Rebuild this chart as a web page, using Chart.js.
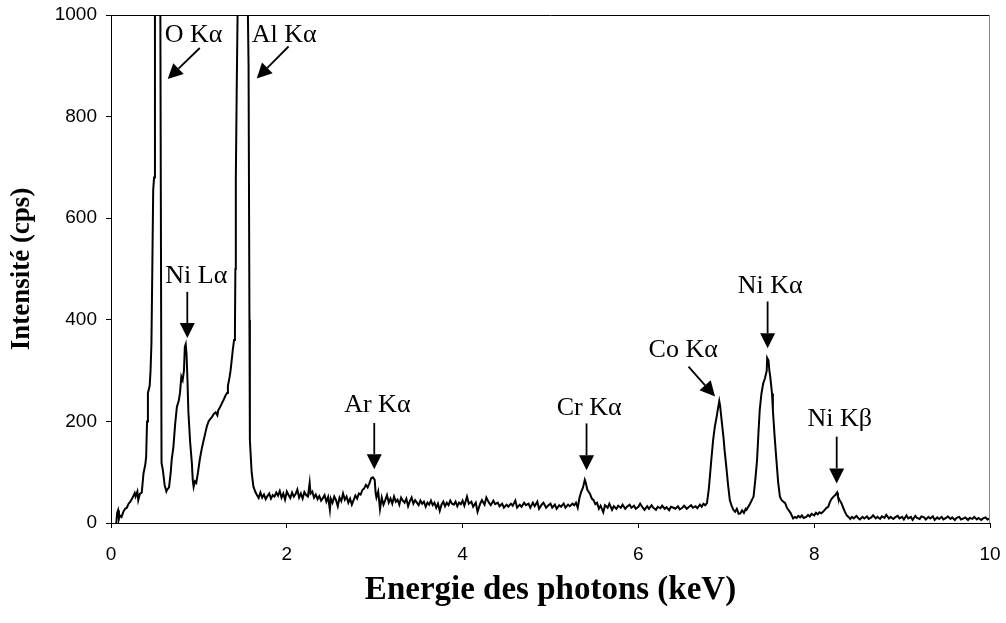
<!DOCTYPE html>
<html>
<head>
<meta charset="utf-8">
<script src="https://cdn.jsdelivr.net/npm/chart.js@4.4.1/dist/chart.umd.min.js"></script>
<style>
  html, body { margin: 0; padding: 0; background: #fff; }
</style>
</head>
<body>
<canvas id="spectrum" width="1006" height="623"></canvas>
<script>
// EDS spectrum (keV / cps)
const energy = [
  0.06, 0.07, 0.08, 0.09, 0.10, 0.12, 0.14, 0.16, 0.18, 0.20,
  0.22, 0.24, 0.26, 0.27, 0.28, 0.30, 0.31, 0.33, 0.35, 0.37,
  0.39, 0.40, 0.41, 0.42, 0.44, 0.45, 0.46, 0.47, 0.48, 0.49,
  0.50, 0.51, 0.55, 0.56, 0.575, 0.59, 0.61, 0.63, 0.64, 0.66,
  0.68, 0.69, 0.71, 0.73, 0.75, 0.77, 0.785, 0.80, 0.815, 0.83,
  0.84, 0.85, 0.86, 0.87, 0.88, 0.90, 0.92, 0.93, 0.94, 0.955,
  0.97, 0.99, 1.01, 1.03, 1.05, 1.07, 1.09, 1.11, 1.13, 1.15,
  1.17, 1.19, 1.21, 1.22, 1.24, 1.26, 1.28, 1.30, 1.32, 1.33,
  1.35, 1.36, 1.37, 1.385, 1.40, 1.41, 1.415, 1.42, 1.43, 1.44,
  1.45, 1.47, 1.52, 1.55, 1.565, 1.575, 1.58, 1.60, 1.62, 1.64,
  1.66, 1.68, 1.70, 1.72, 1.74, 1.76, 1.78, 1.80, 1.82, 1.84,
  1.86, 1.88, 1.90, 1.92, 1.94, 1.96, 1.98, 2.00, 2.02, 2.04,
  2.06, 2.08, 2.10, 2.12, 2.14, 2.16, 2.18, 2.20, 2.22, 2.24,
  2.26, 2.27, 2.29, 2.31, 2.33, 2.35, 2.37, 2.39, 2.41, 2.43,
  2.45, 2.47, 2.49, 2.50, 2.52, 2.54, 2.56, 2.58, 2.60, 2.62,
  2.64, 2.66, 2.68, 2.70, 2.72, 2.74, 2.76, 2.78, 2.80, 2.82,
  2.84, 2.86, 2.88, 2.90, 2.92, 2.94, 2.96, 2.98, 3.00, 3.01,
  3.02, 3.04, 3.06, 3.08, 3.10, 3.12, 3.14, 3.16, 3.18, 3.20,
  3.22, 3.24, 3.26, 3.28, 3.30, 3.32, 3.34, 3.36, 3.38, 3.40,
  3.42, 3.44, 3.46, 3.48, 3.50, 3.52, 3.54, 3.56, 3.58, 3.60,
  3.62, 3.64, 3.66, 3.68, 3.70, 3.72, 3.74, 3.76, 3.78, 3.80,
  3.82, 3.84, 3.86, 3.88, 3.90, 3.92, 3.94, 3.96, 3.98, 4.00,
  4.02, 4.05, 4.07, 4.10, 4.12, 4.15, 4.17, 4.20, 4.22, 4.25,
  4.27, 4.30, 4.32, 4.35, 4.37, 4.40, 4.42, 4.45, 4.47, 4.50,
  4.52, 4.55, 4.57, 4.60, 4.62, 4.65, 4.67, 4.70, 4.72, 4.75,
  4.77, 4.80, 4.82, 4.85, 4.87, 4.90, 4.92, 4.95, 4.97, 5.00,
  5.02, 5.05, 5.07, 5.10, 5.12, 5.15, 5.17, 5.20, 5.22, 5.25,
  5.27, 5.29, 5.31, 5.33, 5.35, 5.37, 5.39, 5.40, 5.42, 5.44,
  5.45, 5.47, 5.49, 5.51, 5.53, 5.55, 5.57, 5.60, 5.62, 5.65,
  5.67, 5.70, 5.72, 5.75, 5.77, 5.80, 5.82, 5.85, 5.87, 5.90,
  5.92, 5.95, 5.97, 6.00, 6.02, 6.05, 6.07, 6.10, 6.12, 6.15,
  6.17, 6.20, 6.22, 6.25, 6.27, 6.30, 6.32, 6.35, 6.37, 6.40,
  6.42, 6.45, 6.47, 6.50, 6.52, 6.55, 6.57, 6.60, 6.62, 6.65,
  6.67, 6.70, 6.72, 6.74, 6.76, 6.78, 6.80, 6.81, 6.83, 6.85,
  6.87, 6.89, 6.905, 6.92, 6.93, 6.95, 6.97, 6.98, 7.00, 7.02,
  7.04, 7.06, 7.08, 7.10, 7.12, 7.14, 7.16, 7.18, 7.20, 7.22,
  7.23, 7.25, 7.27, 7.29, 7.31, 7.33, 7.35, 7.365, 7.38, 7.40,
  7.42, 7.44, 7.46, 7.465, 7.48, 7.49, 7.50, 7.52, 7.53, 7.55,
  7.57, 7.59, 7.61, 7.63, 7.65, 7.67, 7.69, 7.71, 7.73, 7.76,
  7.78, 7.80, 7.82, 7.84, 7.86, 7.88, 7.91, 7.93, 7.95, 7.97,
  8.00, 8.02, 8.04, 8.06, 8.08, 8.10, 8.12, 8.14, 8.16, 8.18,
  8.20, 8.22, 8.24, 8.26, 8.27, 8.29, 8.31, 8.33, 8.35, 8.37,
  8.39, 8.41, 8.43, 8.45, 8.48, 8.50, 8.52, 8.55, 8.57, 8.60,
  8.62, 8.65, 8.67, 8.70, 8.72, 8.75, 8.77, 8.80, 8.82, 8.85,
  8.87, 8.90, 8.92, 8.95, 8.97, 9.00, 9.02, 9.05, 9.07, 9.10,
  9.12, 9.15, 9.17, 9.20, 9.22, 9.25, 9.27, 9.30, 9.32, 9.35,
  9.37, 9.40, 9.42, 9.45, 9.47, 9.50, 9.52, 9.55, 9.57, 9.60,
  9.62, 9.65, 9.67, 9.70, 9.72, 9.75, 9.77, 9.80, 9.82, 9.85,
  9.87, 9.90, 9.92, 9.95, 9.97, 10.00
];
const counts = [
  0, 20, 25, 8, 15, 12, 22, 28, 30, 38,
  42, 48, 55, 59, 52, 62, 45, 58, 60, 98,
  115, 130, 200, 256, 270, 300, 354, 500, 655, 680,
  1100, 2600, 2600, 1100, 118, 104, 75, 62, 66, 70,
  100, 124, 150, 195, 229, 240, 256, 288, 281, 300,
  347, 352, 330, 281, 220, 160, 118, 85, 71, 82,
  79, 100, 125, 144, 160, 175, 190, 200, 205, 209,
  215, 218, 212, 222, 228, 235, 242, 250, 256, 270,
  288, 300, 315, 340, 360, 380, 500, 675, 850, 1000,
  1100, 3000, 3600, 1100, 900, 400, 163, 100, 72, 62,
  55, 49, 60, 50, 56, 47, 53, 58, 48, 55,
  52, 60, 54, 63, 50, 58, 46, 62, 55, 49,
  60, 52, 57, 66, 50, 58, 48, 61, 55, 52,
  79, 58, 62, 50, 56, 47, 53, 44, 49, 55,
  42, 51, 26, 48, 40, 52, 45, 33, 50, 43,
  58, 46, 52, 40, 48, 36, 45, 54, 48, 58,
  56, 65, 68, 75, 70, 78, 88, 90, 85, 60,
  50, 62, 27, 50, 36, 45, 55, 40, 48, 38,
  52, 42, 46, 36, 50, 44, 40, 48, 33, 43,
  50, 38, 45, 40, 35, 44, 38, 42, 32, 40,
  36, 44, 35, 40, 30, 38, 24, 36, 42, 33,
  40, 35, 44, 38, 36, 42, 33, 40, 37, 44,
  34, 52, 38, 42, 32, 40, 22, 38, 45, 36,
  50, 40, 35, 44, 37, 40, 33, 38, 30, 36,
  32, 38, 34, 44, 30, 36, 32, 40, 35, 38,
  30, 40, 33, 42, 28, 36, 40, 30, 34, 38,
  30, 36, 28, 35, 32, 38, 30, 36, 33, 38,
  35, 40, 30, 50, 62, 70, 85, 80, 65, 60,
  57, 48, 45, 37, 40, 28, 34, 21, 35, 30,
  38, 26, 33, 28, 34, 30, 36, 28, 32, 36,
  30, 34, 28, 32, 38, 30, 26, 33, 28, 35,
  30, 26, 32, 29, 34, 28, 31, 25, 32, 30,
  28, 33, 27, 30, 34, 28, 31, 35, 30, 33,
  29, 36, 32, 38, 35, 39, 65, 85, 125, 163,
  190, 209, 225, 240, 230, 197, 165, 144, 111, 75,
  45, 34, 26, 22, 28, 18, 19, 25, 20, 28,
  26, 32, 38, 45, 52, 85, 124, 175, 222, 255,
  275, 285, 300, 325, 320, 300, 288, 255, 222, 170,
  124, 80, 52, 45, 42, 39, 30, 25, 20, 9,
  12, 10, 14, 11, 15, 10, 12, 16, 13, 18,
  15, 20, 17, 21, 19, 22, 26, 30, 32, 42,
  48, 52, 55, 60, 52, 45, 39, 30, 22, 15,
  12, 8, 12, 9, 14, 10, 7, 12, 9, 13,
  8, 11, 15, 9, 12, 8, 13, 10, 16, 9,
  12, 8, 11, 14, 9, 12, 7, 15, 9, 12,
  6, 14, 10, 8, 13, 11, 7, 12, 9, 13,
  6, 11, 8, 12, 7, 10, 13, 8, 11, 6,
  10, 12, 7, 9, 11, 6, 10, 8, 12, 7,
  10, 6, 9, 11, 7, 9
];

const xTickValues = [0, 2, 4, 6, 8, 10];
const yTickValues = [0, 200, 400, 600, 800, 1000];

// peak labels: text position (baseline centre) and arrow start -> tip, all in keV / cps
const peakLabels = ['O Kα', 'Al Kα', 'Ni Lα', 'Ar Kα', 'Cr Kα', 'Co Kα', 'Ni Kα', 'Ni Kβ'];
const labelE = [0.94, 1.97, 0.97, 3.03, 5.44, 6.51, 7.50, 8.29];
const labelI = [947, 947, 472, 218, 213, 327, 452, 190];
const arrowFromE = [1.01, 2.02, 0.868, 2.995, 5.41, 6.57, 7.47, 8.256];
const arrowFromI = [935, 938, 455, 197, 196, 308, 436, 170];
const arrowToE = [0.645, 1.658, 0.868, 2.995, 5.41, 6.872, 7.47, 8.256];
const arrowToI = [874, 875, 364, 106, 104, 249, 344, 78];

const frameAndLabels = {
  id: 'frameAndLabels',
  afterDatasetsDraw(chart) {
    const { ctx, chartArea: a, scales: { x, y } } = chart;
    ctx.save();
    // top and right frame
    ctx.lineWidth = 1;
    ctx.strokeStyle = '#000';
    ctx.beginPath();
    ctx.moveTo(a.left, a.top + 0.5);
    ctx.lineTo(a.right, a.top + 0.5);
    ctx.stroke();
    ctx.strokeStyle = '#888';
    ctx.beginPath();
    ctx.moveTo(a.right - 0.5, a.top);
    ctx.lineTo(a.right - 0.5, a.bottom);
    ctx.stroke();

    ctx.fillStyle = '#000';
    ctx.strokeStyle = '#000';
    ctx.font = '26px "Liberation Serif", "Times New Roman", serif';
    ctx.textAlign = 'center';
    ctx.textBaseline = 'alphabetic';
    peakLabels.forEach((t, i) => {
      ctx.fillText(t, x.getPixelForValue(labelE[i]), y.getPixelForValue(labelI[i]));
      const x0 = x.getPixelForValue(arrowFromE[i]), y0 = y.getPixelForValue(arrowFromI[i]);
      const x1 = x.getPixelForValue(arrowToE[i]), y1 = y.getPixelForValue(arrowToI[i]);
      const ang = Math.atan2(y1 - y0, x1 - x0);
      const head = 15, half = 7.5;
      const bx = x1 - head * Math.cos(ang), by = y1 - head * Math.sin(ang);
      ctx.lineWidth = 1.8;
      ctx.beginPath();
      ctx.moveTo(x0, y0);
      ctx.lineTo(bx, by);
      ctx.stroke();
      ctx.beginPath();
      ctx.moveTo(x1, y1);
      ctx.lineTo(bx - half * Math.sin(ang), by + half * Math.cos(ang));
      ctx.lineTo(bx + half * Math.sin(ang), by - half * Math.cos(ang));
      ctx.closePath();
      ctx.fill();
    });
    ctx.restore();
  }
};

new Chart(document.getElementById('spectrum'), {
  type: 'line',
  data: {
    datasets: [{
      data: energy.map((e, i) => ({ x: e, y: counts[i] })),
      borderColor: '#000',
      borderWidth: 2,
      pointRadius: 0,
      tension: 0,
      fill: false
    }]
  },
  options: {
    responsive: false,
    animation: false,
    events: [],
    layout: { padding: { top: 15, right: 16, left: 0, bottom: 0 } },
    plugins: { legend: { display: false }, tooltip: { enabled: false } },
    scales: {
      x: {
        type: 'linear',
        min: 0,
        max: 10,
        afterFit: s => { s.height = 100; s.paddingLeft = 0; s.paddingRight = 0; },
        afterBuildTicks: s => { s.ticks = xTickValues.map(v => ({ value: v })); },
        grid: { drawOnChartArea: false, drawTicks: true, tickLength: 5, color: '#000' },
        border: { display: true, color: '#000', width: 1 },
        ticks: {
          color: '#000',
          padding: 15,
          maxRotation: 0,
          font: { family: '"Liberation Sans", Arial, sans-serif', size: 19 },
          callback: v => String(v)
        },
        title: {
          display: true,
          text: 'Energie des photons (keV)',
          color: '#000',
          padding: { top: 0, bottom: 13 },
          font: { family: '"Liberation Serif", "Times New Roman", serif', size: 33, weight: 'bold' }
        }
      },
      y: {
        min: 0,
        max: 1000,
        afterFit: s => { s.width = 111; s.paddingTop = 0; s.paddingBottom = 0; },
        afterBuildTicks: s => { s.ticks = yTickValues.map(v => ({ value: v })); },
        grid: { drawOnChartArea: false, drawTicks: true, tickLength: 5, color: '#000' },
        border: { display: true, color: '#000', width: 1 },
        ticks: {
          color: '#000',
          padding: 9,
          font: { family: '"Liberation Sans", Arial, sans-serif', size: 19 },
          callback: v => String(v)
        },
        title: {
          display: true,
          text: 'Intensité (cps)',
          color: '#000',
          padding: { top: 6, bottom: 0 },
          font: { family: '"Liberation Serif", "Times New Roman", serif', size: 27, weight: 'bold' }
        }
      }
    }
  },
  plugins: [frameAndLabels]
});
</script>
</body>
</html>
